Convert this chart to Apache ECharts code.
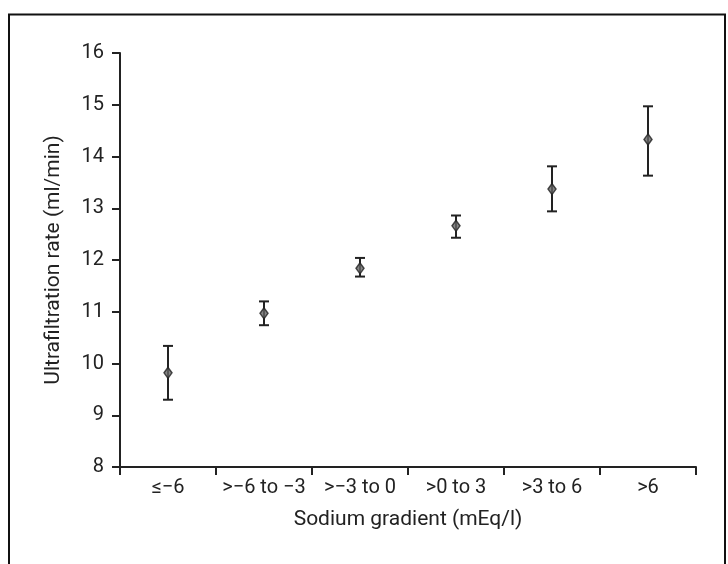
<!DOCTYPE html>
<html>
<head>
<meta charset="utf-8">
<script src="https://cdn.jsdelivr.net/npm/echarts@6/dist/echarts.min.js"></script>
<style>
	html, body { margin: 0; padding: 0; background: #fff; }
	#chart { width: 728px; height: 564px; }
</style>
</head>
<body>
<div id="chart"></div>
<script>
// sodium gradient groups
var categories = ['\u2264\u22126', '>\u22126 to \u22123', '>\u22123 to 0', '>0 to 3', '>3 to 6', '>6'];
// ultrafiltration rate, mean and error bar ends (ml/min)
var means = [9.82, 10.97, 11.84, 12.66, 13.37, 14.33];
var lower = [9.30, 10.74, 11.68, 12.43, 12.94, 13.63];
var upper = [10.34, 11.20, 12.04, 12.86, 13.81, 14.97];
var yTicks = [8, 9, 10, 11, 12, 13, 14, 15, 16];

var font = 'Roboto, "Noto Sans", sans-serif';
var ink = '#222';

var errData = [];
for (var i = 0; i < categories.length; i++) {
	errData.push([i, lower[i], upper[i]]);
}

var myChart = echarts.init(document.getElementById('chart'));
var option = {
	backgroundColor: '#fff',
	animation: false,
	graphic: [{
		type: 'rect',
		shape: { x: 9, y: 14.5, width: 716, height: 570 },
		style: { fill: 'none', stroke: '#111', lineWidth: 2 }
	}],
	grid: {
		left: 120,
		right: 32,
		top: 53,
		bottom: 97
	},
	xAxis: {
		type: 'category',
		data: categories,
		boundaryGap: true,
		name: 'Sodium gradient (mEq/l)',
		nameLocation: 'middle',
		nameGap: 42,
		nameTextStyle: { fontFamily: font, fontSize: 21, color: ink },
		axisLine: { lineStyle: { color: ink, width: 2 } },
		axisTick: { show: true, length: 8, alignWithLabel: false, lineStyle: { color: ink, width: 2 } },
		axisLabel: { interval: 0, fontFamily: font, fontSize: 20, color: ink, margin: 11 },
		splitLine: { show: false }
	},
	yAxis: {
		type: 'value',
		min: yTicks[0],
		max: yTicks[yTicks.length - 1],
		interval: 1,
		name: 'Ultrafiltration rate (ml/min)',
		nameLocation: 'middle',
		nameGap: 56,
		nameTextStyle: { fontFamily: font, fontSize: 21, color: ink },
		axisLine: { show: true, lineStyle: { color: ink, width: 2 } },
		axisTick: { show: true, length: 8, lineStyle: { color: ink, width: 2 } },
		axisLabel: { fontFamily: font, fontSize: 20, color: ink, margin: 16 },
		splitLine: { show: false }
	},
	series: [{
		name: 'error',
		type: 'custom',
		data: errData,
		renderItem: function (params, api) {
			var lo = api.coord([api.value(0), api.value(1)]);
			var hi = api.coord([api.value(0), api.value(2)]);
			var half = 5;
			var st = { stroke: ink, lineWidth: 2 };
			return {
				type: 'group',
				children: [
					{ type: 'line', shape: { x1: hi[0], y1: hi[1], x2: lo[0], y2: lo[1] }, style: st },
					{ type: 'line', shape: { x1: hi[0] - half, y1: hi[1], x2: hi[0] + half, y2: hi[1] }, style: st },
					{ type: 'line', shape: { x1: lo[0] - half, y1: lo[1], x2: lo[0] + half, y2: lo[1] }, style: st }
				]
			};
		},
		z: 2
	}, {
		name: 'mean',
		type: 'scatter',
		data: means,
		symbol: 'diamond',
		symbolSize: [8, 11],
		itemStyle: { color: '#666', borderColor: ink, borderWidth: 1.5 },
		z: 3
	}]
};
myChart.setOption(option);
</script>
</body>
</html>
